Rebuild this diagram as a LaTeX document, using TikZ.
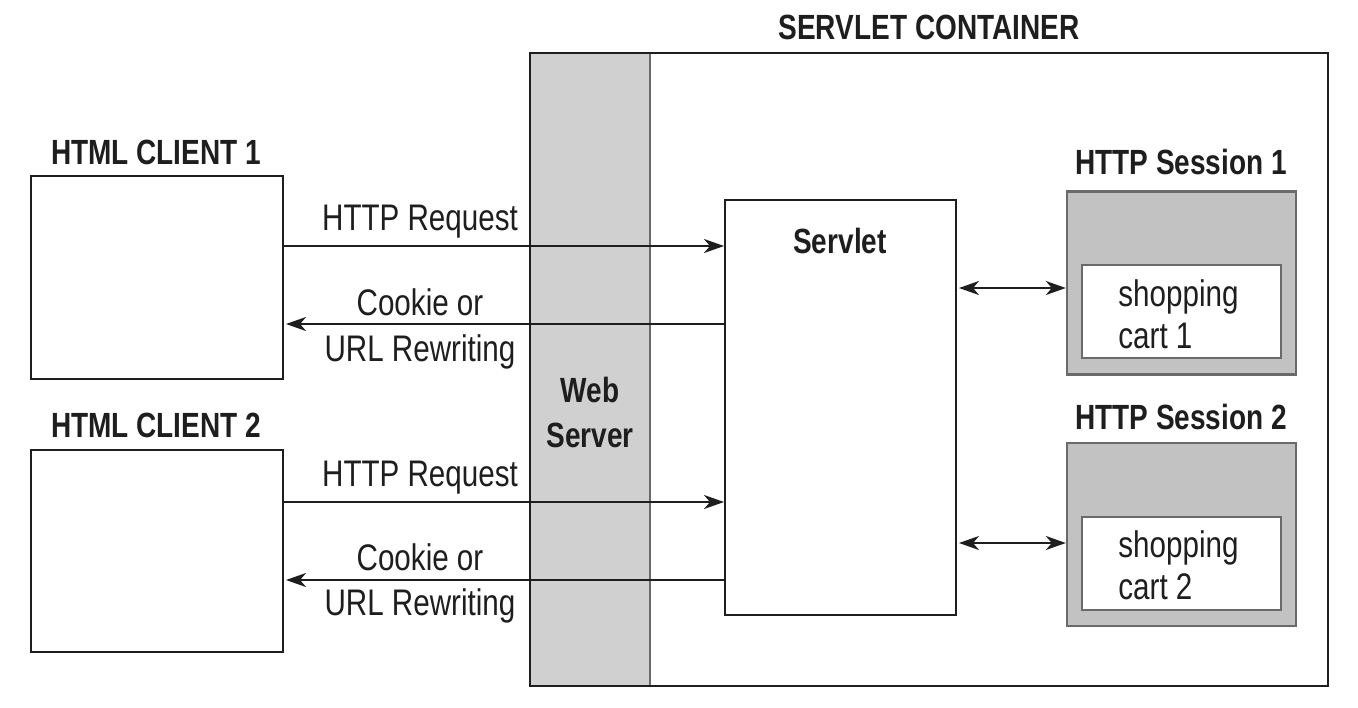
\documentclass[tikz,border=0pt]{standalone}
\usepackage{fontspec}
\setmainfont{Liberation Sans}[FakeStretch=0.8]
\usetikzlibrary{arrows.meta}
\definecolor{ink}{HTML}{1E1E1E}
\definecolor{wsgray}{HTML}{D0D0D0}
\definecolor{sessgray}{HTML}{C2C2C2}
\definecolor{edgegray}{HTML}{6A6A6A}
\tikzset{
  box/.style={draw=ink, line width=1pt, fill=white, inner sep=0pt},
  sessbox/.style={draw=edgegray, line width=1.2pt, fill=sessgray, inner sep=0pt, minimum width=114.5pt, minimum height=91.5pt},
  cartbox/.style={draw=edgegray, line width=1.2pt, fill=white, inner sep=0pt, minimum width=99.5pt, minimum height=46.5pt},
  lbl/.style={text=ink, font=\fontsize{18.5}{21}\selectfont, inner sep=0pt},
  blbl/.style={text=ink, font=\fontsize{17.5}{21}\selectfont\bfseries, inner sep=0pt},
  arr/.style={draw=ink, line width=1pt, -{Stealth[length=10pt,width=7pt,inset=3pt]}},
  darr/.style={draw=ink, line width=1pt, {Stealth[length=10pt,width=7pt,inset=3pt]}-{Stealth[length=10pt,width=7pt,inset=3pt]}}
}
\begin{document}
\begin{tikzpicture}[x=0.5pt,y=-0.5pt]
\useasboundingbox[fill=white] (0,0) rectangle (1358,707);
% container and web server strip
\fill[wsgray] (530,53) rectangle (650,686);
\draw[edgegray, line width=1.2pt] (650,53) -- (650,686);
\draw[ink, line width=1.1pt] (530,53) rectangle (1328,686);
\node[blbl] (title) at (929,27) {SERVLET CONTAINER};
\node[blbl, align=center, font=\fontsize{17.5}{22.5}\selectfont\bfseries] (ws) at (590,412) {Web\\Server};
% clients
\node[box, minimum width=126pt, minimum height=101.5pt] (c1) at (157,277.5) {};
\node[box, minimum width=126pt, minimum height=101pt] (c2) at (157,551) {};
\node[blbl] (c1t) at (156,152) {HTML CLIENT 1};
\node[blbl] (c2t) at (156,425) {HTML CLIENT 2};
% servlet
\node[box, minimum width=115.5pt, minimum height=207.5pt] (sv) at (840.5,407.5) {};
\node[blbl] (svt) at (840,241) {Servlet};
% sessions
\node[sessbox] (s1) at (1181.5,283) {};
\node[cartbox] (k1) at (1181.5,311.5) {};
\node[lbl, anchor=west, align=left] (k1t) at (1118,314) {shopping\\cart 1};
\node[blbl] (s1t) at (1181,162) {HTTP Session 1};
\node[sessbox] (s2) at (1181.5,534.5) {};
\node[cartbox] (k2) at (1181.5,563.5) {};
\node[lbl, anchor=west, align=left] (k2t) at (1118,565) {shopping\\cart 2};
\node[blbl] (s2t) at (1181,417) {HTTP Session 2};
% client 1 arrows
\coordinate (a1) at ([yshift=15.75pt]c1.east);
\coordinate (b1) at ([yshift=-23.25pt]c1.east);
\draw[arr] (a1) -- (a1 -| sv.west);
\draw[arr] (b1 -| sv.west) -- ([xshift=1pt]b1);
\node[lbl] (r1) at (420,222) {HTTP Request};
\node[lbl] (k1a) at (420,302) {Cookie or};
\node[lbl] (k1b) at (420,352) {URL Rewriting};
% client 2 arrows
\coordinate (a2) at ([yshift=24.5pt]c2.east);
\coordinate (b2) at ([yshift=-14.5pt]c2.east);
\draw[arr] (a2) -- (a2 -| sv.west);
\draw[arr] (b2 -| sv.west) -- ([xshift=1pt]b2);
\node[lbl] (r2) at (420,478) {HTTP Request};
\node[lbl] (k2a) at (420,557) {Cookie or};
\node[lbl] (k2b) at (420,606) {URL Rewriting};
% session links
\coordinate (d1) at ([yshift=-2.5pt]s1.west);
\coordinate (d2) at ([yshift=-4.25pt]s2.west);
\draw[darr] ([xshift=1pt]d1 -| sv.east) -- (d1);
\draw[darr] ([xshift=1pt]d2 -| sv.east) -- (d2);
\end{tikzpicture}
\end{document}
